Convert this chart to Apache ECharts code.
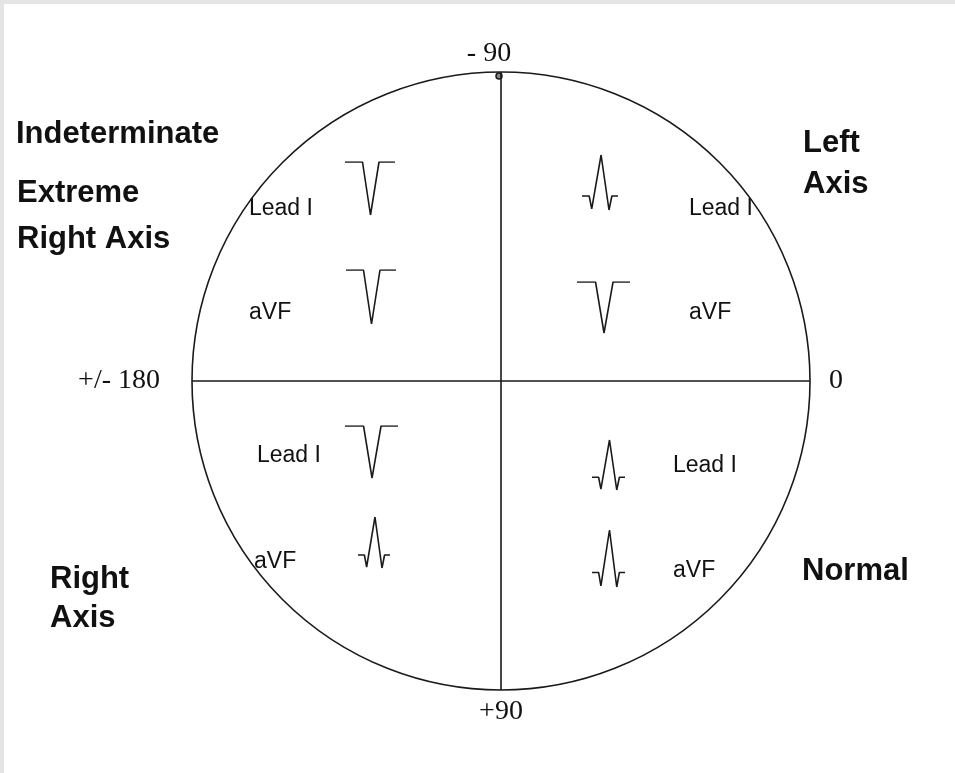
<!DOCTYPE html>
<html>
<head>
<meta charset="utf-8">
<script src="https://cdn.jsdelivr.net/npm/echarts@6/dist/echarts.min.js"></script>
<style>
html,body{margin:0;padding:0;background:#fff;}
#chart{width:955px;height:773px;}
</style>
</head>
<body>
<div id="chart"></div>
<script>
// ---- data ----
const quadrants = ['UL', 'UR', 'LL', 'LR'];
const leadIPolarity = ['neg', 'pos', 'neg', 'pos'];
const aVFPolarity = ['neg', 'neg', 'pos', 'pos'];
const posWaveX = [0, 20, 27, 53, 75, 83, 100];
const posWaveY = [0, 0, -12, 38, -13, 0, 0];
const negWaveX = [0, 35, 51, 68, 100];
const negWaveY = [0, 0, -52, 0, 0];
const angleTicks = [0, 90, 180, 270];
const angleTickLabels = ['0', '+90', '+/- 180', '- 90'];
const regionTitles = ['Indeterminate', 'Extreme', 'Right Axis', 'Left', 'Axis', 'Right', 'Axis', 'Normal'];
const leadNames = ['Lead I', 'aVF'];

// ---- layout ----
const polarCenter = [501, 381];
const polarRadius = 309;
const waveBoxes = {
  UL: [[345, 162, 50, 53], [346, 270, 50, 54]],
  UR: [[582, 155, 36, 55], [577, 282, 53, 51]],
  LL: [[345, 426, 53, 52], [358, 517, 32, 51]],
  LR: [[592, 440, 33, 50], [592, 530, 33, 57]]
};
const leadLabelPos = {
  UL: [[249, 209], [249, 313]],
  UR: [[689, 209], [689, 313]],
  LL: [[257, 456], [254, 562]],
  LR: [[673, 466], [673, 571]]
};
const titlePos = [[16, 134], [17, 193], [17, 239], [803, 143], [803, 184], [50, 579], [50, 618], [802, 571]];
const labelPad = {'0': [0, 0, 0, 15], '+90': [4, 0, 0, 0], '+/- 180': [0, 28, 0, 0], '- 90': [0, 24, 0, 0]};

const ink = '#1a1a1a';
const grids = [], xAxes = [], yAxes = [], series = [];
const waveOf = p => p === 'pos'
  ? posWaveX.map((x, i) => [x, posWaveY[i]])
  : negWaveX.map((x, i) => [x, negWaveY[i]]);

quadrants.forEach((q, qi) => {
  [leadIPolarity[qi], aVFPolarity[qi]].forEach((pol, li) => {
    const b = waveBoxes[q][li];
    const gi = grids.length;
    grids.push({left: b[0], top: b[1], width: b[2], height: b[3], containLabel: false});
    xAxes.push({type: 'value', gridIndex: gi, min: 0, max: 100, show: false});
    yAxes.push({type: 'value', gridIndex: gi, min: 'dataMin', max: 'dataMax', show: false});
    series.push({
      type: 'line', xAxisIndex: gi, yAxisIndex: gi, data: waveOf(pol),
      symbol: 'none', silent: true, animation: false,
      lineStyle: {color: ink, width: 1.6}
    });
  });
});

const graphics = [
  {type: 'rect', shape: {x: 0, y: 0, width: 955, height: 4}, style: {fill: '#e4e4e4'}},
  {type: 'rect', shape: {x: 0, y: 0, width: 4, height: 773}, style: {fill: '#e4e4e4'}},
  {type: 'circle', shape: {cx: 499, cy: 76, r: 3}, style: {fill: '#888', stroke: ink, lineWidth: 1.5}}
];
regionTitles.forEach((t, i) => {
  graphics.push({type: 'text', style: {
    x: titlePos[i][0], y: titlePos[i][1], text: t,
    font: 'bold 31px "Liberation Sans", Arial, sans-serif', fill: '#111',
    textAlign: 'left', textVerticalAlign: 'middle'
  }});
});
quadrants.forEach(q => {
  leadNames.forEach((n, li) => {
    const p = leadLabelPos[q][li];
    graphics.push({type: 'text', style: {
      x: p[0], y: p[1], text: n,
      font: '23px "Liberation Sans", Arial, sans-serif', fill: '#111',
      textAlign: 'left', textVerticalAlign: 'middle'
    }});
  });
});

const rich = {};
angleTickLabels.forEach((l, i) => {
  rich['t' + i] = {fontSize: 28, fontFamily: '"Liberation Serif", "Times New Roman", serif', color: '#111', padding: labelPad[l]};
});

const chart = echarts.init(document.getElementById('chart'), null, {renderer: 'canvas'});
chart.setOption({
  backgroundColor: '#ffffff',
  animation: false,
  polar: {center: polarCenter, radius: polarRadius},
  angleAxis: {
    type: 'value', min: 0, max: 360, interval: 90, startAngle: 0, clockwise: true,
    axisLine: {show: true, lineStyle: {color: ink, width: 1.6}},
    axisTick: {show: false},
    splitLine: {show: true, lineStyle: {color: ink, width: 1.6}},
    axisLabel: {
      margin: 4,
      fontSize: 28,
      fontFamily: '"Liberation Serif", "Times New Roman", serif',
      color: '#111',
      formatter: v => {
        const i = angleTicks.indexOf(v);
        return i < 0 ? '' : '{t' + i + '|' + angleTickLabels[i] + '}';
      },
      rich: rich
    }
  },
  radiusAxis: {type: 'value', min: 0, max: 1, show: false, axisLine: {show: false}, splitLine: {show: false}, axisLabel: {show: false}, axisTick: {show: false}},
  grid: grids,
  xAxis: xAxes,
  yAxis: yAxes,
  series: series,
  graphic: graphics
});
</script>
</body>
</html>
